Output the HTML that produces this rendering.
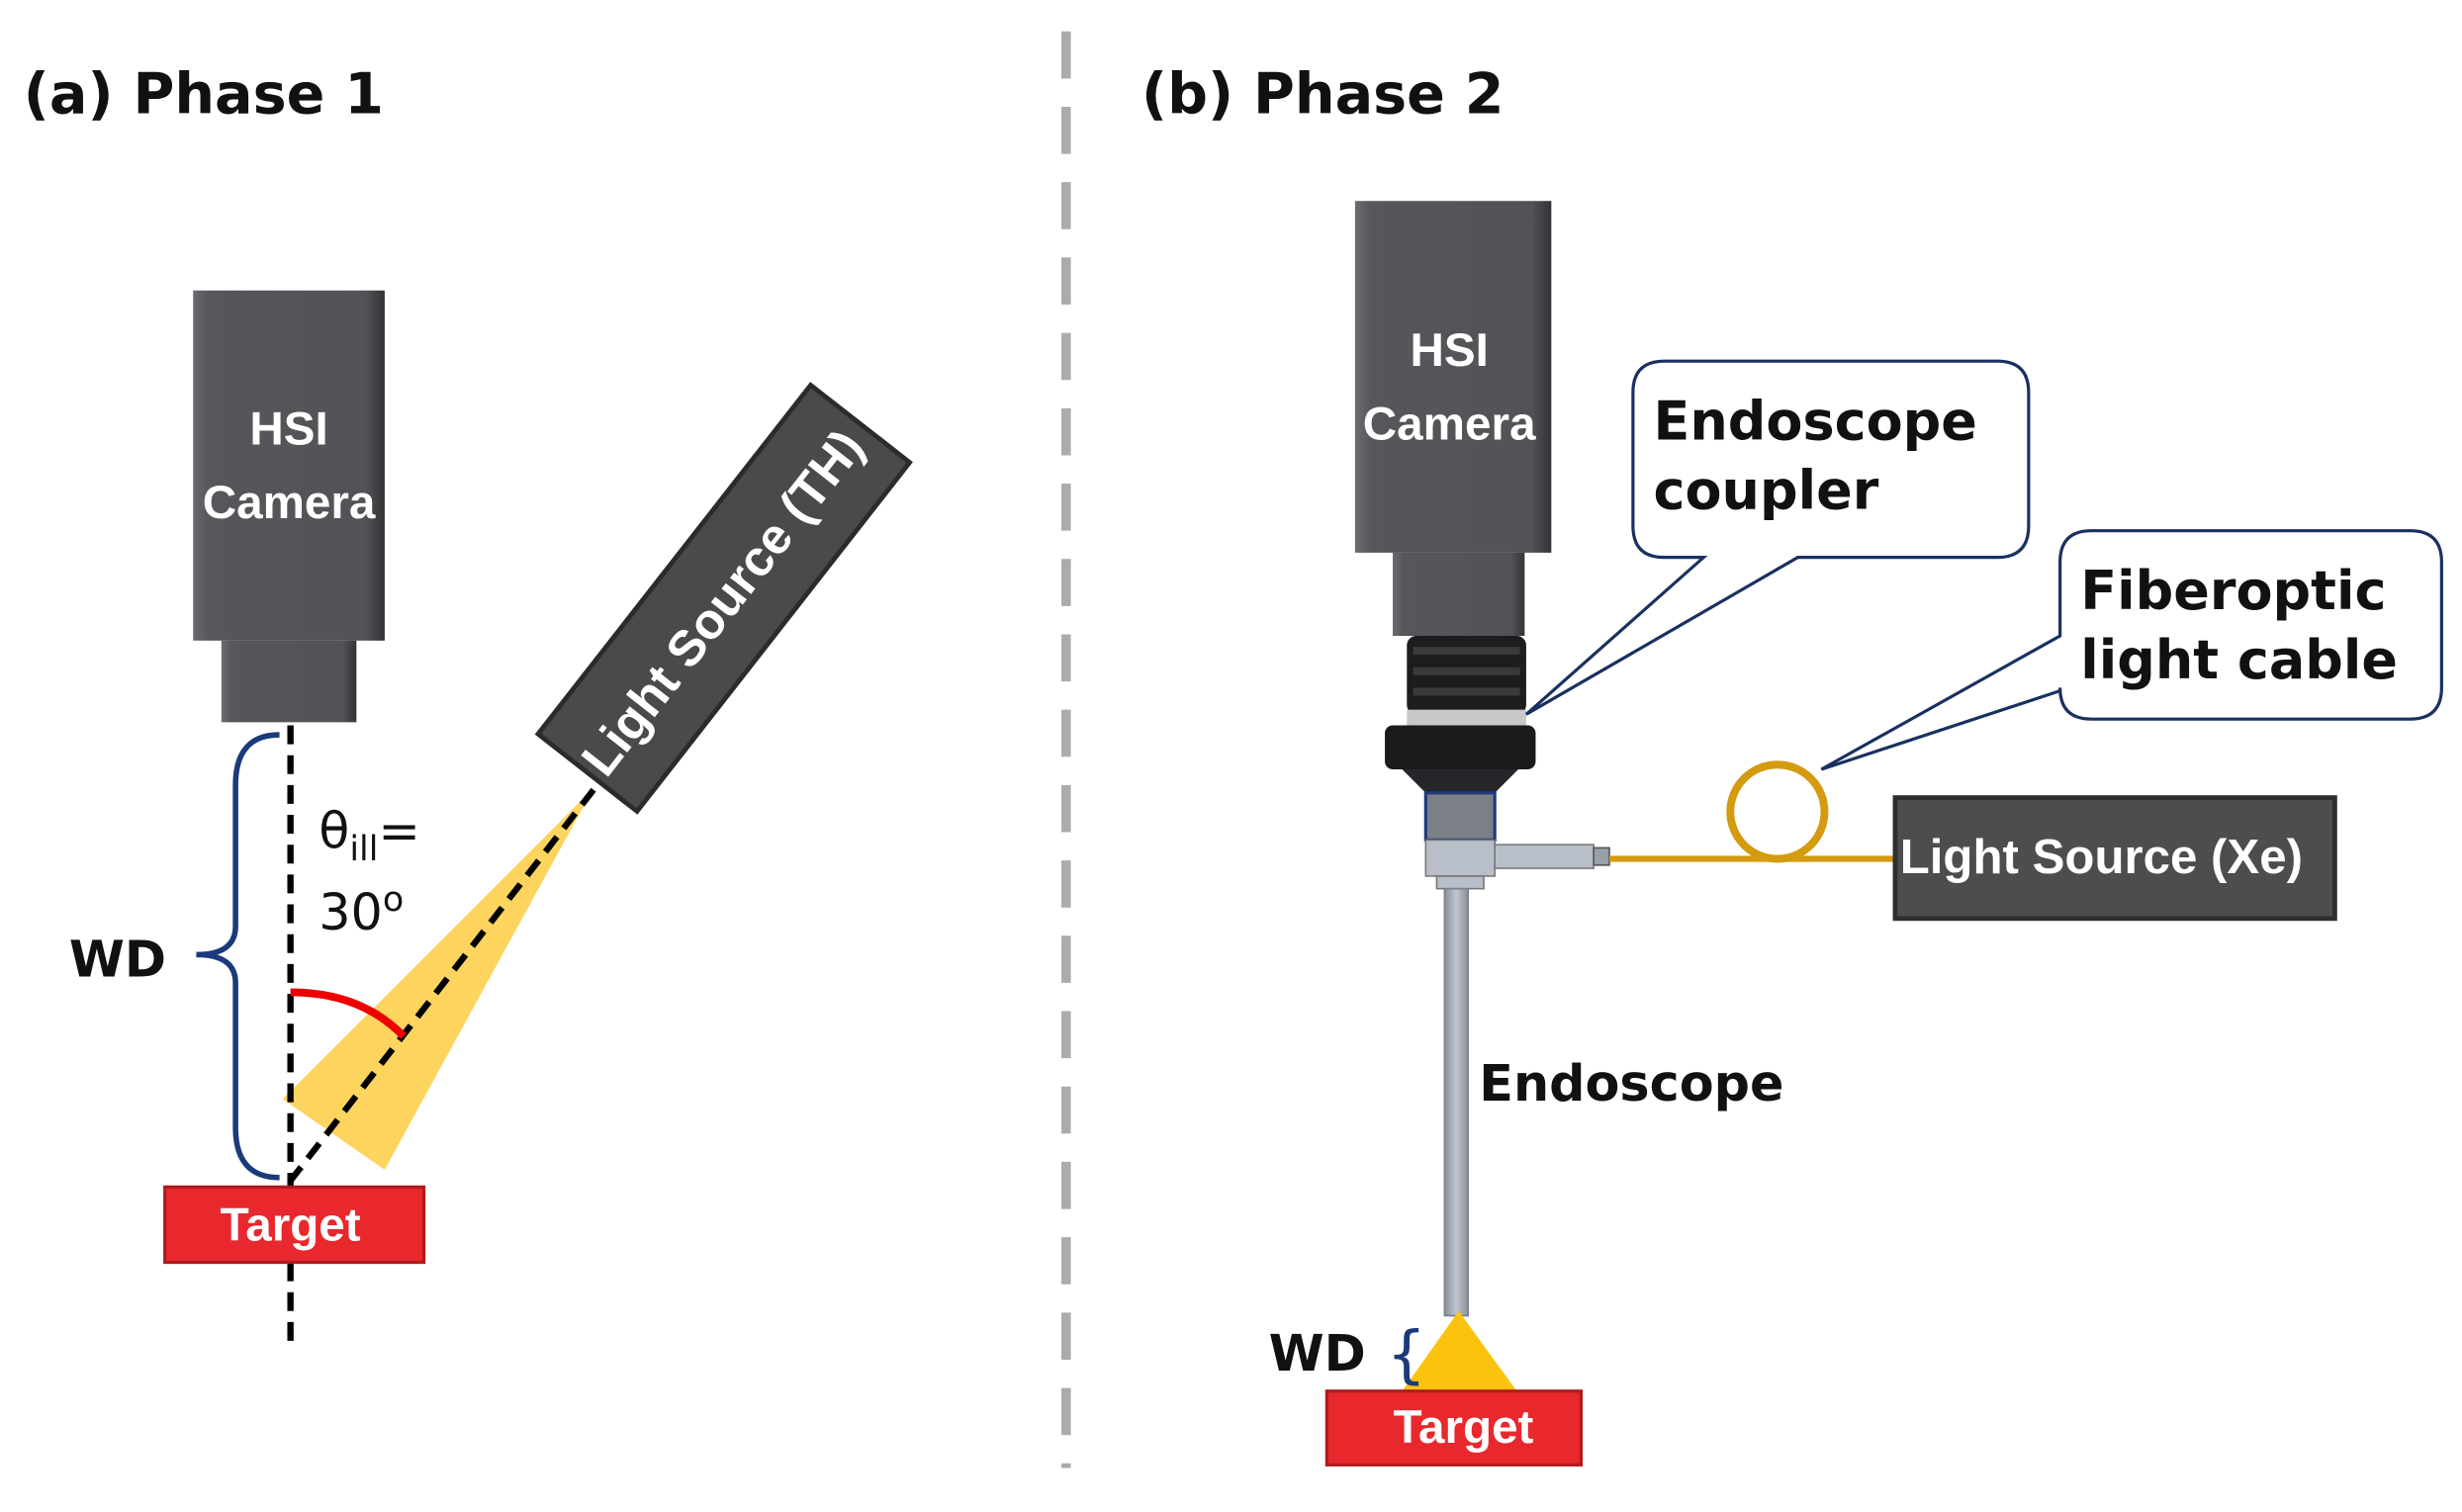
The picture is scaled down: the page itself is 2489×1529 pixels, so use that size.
<!DOCTYPE html>
<html><head><meta charset="utf-8"><style>html,body{margin:0;padding:0;background:#fff}svg{display:block}</style></head>
<body>
<svg width="2489" height="1529" viewBox="0 0 1568 963" preserveAspectRatio="none" xmlns="http://www.w3.org/2000/svg">
<defs>
<linearGradient id="cam" x1="0" x2="1" y1="0" y2="0"><stop offset="0" stop-color="#6a6a70"/><stop offset="0.08" stop-color="#56565b"/><stop offset="0.9" stop-color="#535357"/><stop offset="1" stop-color="#333336"/></linearGradient>
<linearGradient id="tube" x1="0" x2="1"><stop offset="0" stop-color="#8a909a"/><stop offset="0.5" stop-color="#c0c6cf"/><stop offset="1" stop-color="#8a909a"/></linearGradient>
</defs>
<g font-family="'DejaVu Sans', 'Liberation Sans', sans-serif" font-weight="bold">
<text x="15" y="72" font-size="36" fill="#111">(a) Phase 1</text>
<text x="727" y="72" font-size="36" fill="#111">(b) Phase 2</text>
</g>
<line x1="679" y1="20" x2="679" y2="935" stroke="#ababab" stroke-width="6" stroke-dasharray="30,18"/>

<!-- Panel A camera -->
<rect x="123" y="185" width="122" height="223" fill="url(#cam)"/>
<rect x="141" y="408" width="86" height="52" fill="url(#cam)"/>
<g font-family="'Liberation Sans', sans-serif" font-weight="bold" fill="#fff" font-size="30" text-anchor="middle">
<text x="184" y="283">HSI</text><text x="184" y="330">Camera</text>
</g>
<!-- cone -->
<polygon points="378,502 180,700 245,745" fill="#fdd55e"/>
<line x1="185" y1="462" x2="185" y2="855" stroke="#000" stroke-width="4" stroke-dasharray="12,7"/>
<line x1="378" y1="503" x2="185" y2="752" stroke="#000" stroke-width="4" stroke-dasharray="12,7"/>
<path d="M185,632 Q230,632 257,660" fill="none" stroke="#e00" stroke-width="5"/>
<!-- light source TH -->
<g transform="translate(461,381) rotate(-52)">
<rect x="-141" y="-40" width="282" height="80" fill="#4a4a4d" stroke="#2b2b2d" stroke-width="3"/>
<text x="-137" y="12" font-family="'Liberation Sans', sans-serif" font-weight="bold" font-size="32" fill="#fff">Light Source (TH)</text>
</g>
<!-- brace -->
<path d="M178,468 Q150,468 150,500 L150,590 Q150,608 125,608 Q150,608 150,626 L150,718 Q150,750 178,750" fill="none" stroke="#1a3a7a" stroke-width="3.5"/>
<text x="44" y="622" font-family="'DejaVu Sans', sans-serif" font-weight="bold" font-size="32" fill="#111">WD</text>
<text x="203" y="540" font-family="'DejaVu Sans', sans-serif" font-size="32" fill="#111">θ<tspan font-size="22" dy="8">ill</tspan><tspan dy="-8">=</tspan></text>
<text x="203" y="592" font-family="'DejaVu Sans', sans-serif" font-size="32" fill="#111">30<tspan font-size="22" dy="-12">o</tspan></text>
<rect x="105" y="756" width="165" height="48" fill="#e8282c" stroke="#b01a1d" stroke-width="2"/>
<text x="185" y="790" text-anchor="middle" font-family="'Liberation Sans', sans-serif" font-weight="bold" font-size="30" fill="#fff">Target</text>

<!-- Panel B camera -->
<rect x="863" y="128" width="125" height="224" fill="url(#cam)"/>
<rect x="887" y="352" width="84" height="53" fill="url(#cam)"/>
<g font-family="'Liberation Sans', sans-serif" font-weight="bold" fill="#fff" font-size="30" text-anchor="middle">
<text x="923" y="233">HSI</text><text x="923" y="280">Camera</text>
</g>
<!-- coupler -->
<rect x="896" y="405" width="76" height="50" rx="6" fill="#1d1d1f"/>
<rect x="900" y="412" width="68" height="5" fill="#3a3a3c"/><rect x="900" y="425" width="68" height="5" fill="#3a3a3c"/><rect x="900" y="438" width="68" height="5" fill="#3a3a3c"/>
<rect x="896" y="452" width="76" height="10" fill="#c8c8c8"/>
<rect x="882" y="462" width="96" height="28" rx="5" fill="#1b1b1d"/>
<polygon points="893,490 967,490 950,507 910,507" fill="#26262a"/>
<rect x="908" y="505" width="44" height="30" fill="#7b7f86" stroke="#1f3a7a" stroke-width="2"/>
<rect x="908" y="535" width="44" height="23" fill="#b8bfc9" stroke="#777" stroke-width="1"/>
<rect x="952" y="538" width="63" height="15" fill="#b8bfc9" stroke="#777" stroke-width="1"/>
<rect x="1015" y="540" width="10" height="11" fill="#9aa0a8" stroke="#555" stroke-width="1"/>
<rect x="915" y="558" width="30" height="8" fill="#b8bfc9" stroke="#777" stroke-width="1"/>
<rect x="920" y="566" width="15" height="272" fill="url(#tube)" stroke="#7a808a" stroke-width="1"/>
<!-- cable -->
<path d="M1025,547 L1207,547" stroke="#d49a10" stroke-width="4" fill="none"/>
<circle cx="1132" cy="517" r="30" fill="none" stroke="#d49a10" stroke-width="5"/>
<rect x="1207" y="508" width="280" height="77" fill="#4d4d50" stroke="#2e2e30" stroke-width="3"/>
<text x="1210" y="556" font-family="'Liberation Sans', sans-serif" font-weight="bold" font-size="31" fill="#fff">Light Source (Xe)</text>
<!-- callouts -->
<path d="M1060,230 L1272,230 Q1292,230 1292,250 L1292,335 Q1292,355 1272,355 L1145,355 L972,455 L1085,355 L1060,355 Q1040,355 1040,335 L1040,250 Q1040,230 1060,230 Z" fill="#fff" stroke="#1a3060" stroke-width="2"/>
<text x="1053" y="280" font-family="'DejaVu Sans', sans-serif" font-weight="bold" font-size="34" fill="#111">Endoscope</text>
<text x="1053" y="324" font-family="'DejaVu Sans', sans-serif" font-weight="bold" font-size="34" fill="#111">coupler</text>
<path d="M1332,338 L1535,338 Q1555,338 1555,358 L1555,438 Q1555,458 1535,458 L1332,458 Q1312,458 1312,438 L1312,440 L1160,490 L1312,405 L1312,358 Q1312,338 1332,338 Z" fill="#fff" stroke="#1a3060" stroke-width="2"/>
<text x="1325" y="388" font-family="'DejaVu Sans', sans-serif" font-weight="bold" font-size="34" fill="#111">Fiberoptic</text>
<text x="1325" y="432" font-family="'DejaVu Sans', sans-serif" font-weight="bold" font-size="34" fill="#111">light cable</text>
<text x="942" y="701" font-family="'DejaVu Sans', sans-serif" font-weight="bold" font-size="32" fill="#111">Endoscope</text>
<!-- bottom -->
<polygon points="929,835 893,886 966,886" fill="#fcc30e"/>
<text x="808" y="873" font-family="'DejaVu Sans', sans-serif" font-weight="bold" font-size="32" fill="#111">WD</text>
<text x="883" y="876" font-family="'DejaVu Sans', sans-serif" font-size="40" fill="#1a3a7a">{</text>
<rect x="845" y="886" width="162" height="47" fill="#e8282c" stroke="#b01a1d" stroke-width="2"/>
<text x="932" y="919" text-anchor="middle" font-family="'Liberation Sans', sans-serif" font-weight="bold" font-size="30" fill="#fff">Target</text>
</svg>
</body></html>
